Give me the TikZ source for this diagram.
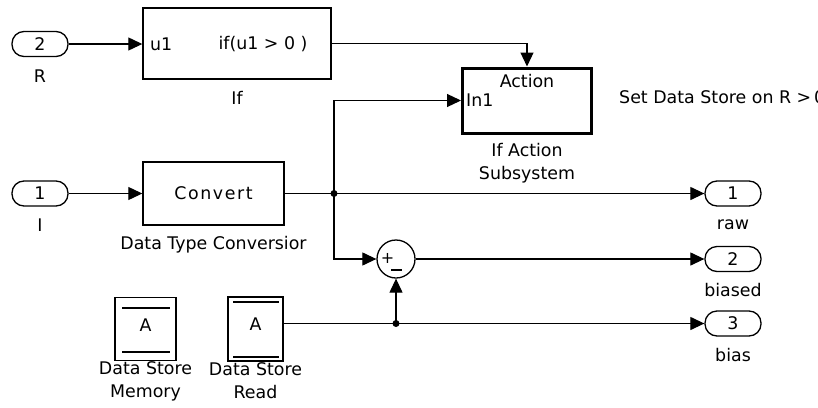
\documentclass[tikz,border=0pt]{standalone}
\usepackage{fontspec}
\setmainfont{DejaVu Sans}
\usetikzlibrary{arrows.meta}
\begin{document}
\begin{tikzpicture}[x=1pt,y=-1pt,
  every node/.style={font=\fontsize{17.4}{23}\selectfont, inner sep=0pt},
  port/.style={draw, line width=1.3pt, rounded corners=12pt, minimum width=56pt, minimum height=25pt},
  blk/.style={draw, line width=1.4pt},
  sig/.style={line width=1.2pt, -{Triangle[length=14pt,width=13pt]}},
  wire/.style={line width=1.2pt},
  lbl/.style={align=center},
  dot/.style={circle, fill, inner sep=0pt, minimum size=7pt}]
\fill[white] (0,0) rectangle (818,407);
\useasboundingbox (0,0) rectangle (818,407);

% inports
\node[port] (inR) at (40,44) {2};
\node at (40,76) {R};
\node[port] (inI) at (40,193.5) {1};
\node at (40,225) {I};

% If block
\node[blk, minimum width=188pt, minimum height=71pt] (if) at (237,43.5) {};
\node[anchor=west] (ifu) at (150,44) {u1};
\node (ifc) at (263,44) {if(u1 > 0 )};
\node (ifl) at (237,98) {If};

% If Action Subsystem
\node[draw, line width=3pt, minimum width=129pt, minimum height=65pt] (act) at (527,100.5) {};
\node (acttop) at (527,81) {Action};
\node[anchor=west] (actin) at (466,100.5) {In1};
\node[lbl] (actl) at (527,163.5) {If Action\\Subsystem};
\node[anchor=west] (note) at (619,97) {Set Data Store on R >\,0};

% Data Type Conversion
\node[blk, minimum width=141pt, minimum height=63pt] (conv) at (213.5,193.5) {};
\node (convt) at (213.5,193.5) {\addfontfeatures{LetterSpace=9}Convert};
\node (convl) at (213.5,245) {Data Type Conversior};

% Sum
\node[draw, circle, line width=1.3pt, minimum size=38pt] (sum) at (396,259) {};
\node (plus) at (387.5,258) {\fontsize{16}{16}\selectfont +};
\draw[line width=1.3pt] (391,270) -- (402,270);

% Data stores
\node[blk, line width=1.3pt, minimum width=61pt, minimum height=63pt] (dsm) at (145.5,329) {};
\draw[line width=1.3pt] (122,308) -- (170,308) (122,352) -- (170,352);
\node (dsma) at (145.5,325) {A};
\node[lbl] (dsml) at (145.5,381) {Data Store\\Memory};

\node[blk, line width=1.3pt, minimum width=55pt, minimum height=64pt] (dsr) at (255.5,329) {};
\draw[line width=1.8pt] (233,302) -- (279,302);
\draw[line width=2.4pt] (233,357) -- (279,357);
\node (dsra) at (255.5,324) {A};
\node[lbl] (dsrl) at (255.5,381) {Data Store\\Read};

% outports
\node[port] (o1) at (733,193.5) {1};
\node (o1l) at (733,225) {raw};
\node[port] (o2) at (733,259) {2};
\node (o2l) at (733,290) {biased};
\node[port] (o3) at (733,323.5) {3};
\node (o3l) at (733,355) {bias};

% signal lines
\coordinate (br1) at (334,193.5);
\coordinate (br2) at (396,323.5);
\coordinate (dsrout) at (dsr.east |- o3);
\draw[sig] (inR.east) -- (inR.east -| if.west);
\draw[sig] (if.east) -| (act.north);
\draw[sig] (inI) -- (conv);
\draw[wire] (conv.east) -- (br1);
\draw[sig] (br1) -- (o1.west);
\draw[sig] (br1) |- (act.west);
\draw[sig] (br1) |- (sum.west);
\draw[sig] (sum.east) -- (o2.west);
\draw[wire] (dsrout) -- (br2);
\draw[sig] (br2) -- (o3.west);
\draw[sig] (br2) -- (sum.south);
\node[dot] at (br1) {};
\node[dot] at (br2) {};
\end{tikzpicture}
\end{document}
